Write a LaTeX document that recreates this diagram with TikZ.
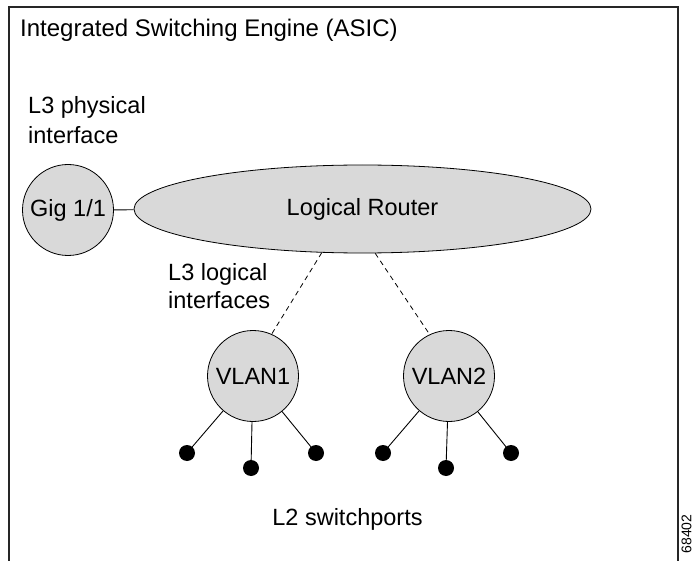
\documentclass[tikz,border=0pt]{standalone}
\usepackage{fontspec}
\setmainfont{Liberation Sans}
\usetikzlibrary{shapes.geometric}
\definecolor{nodegray}{RGB}{217,217,217}
\begin{document}
\begin{tikzpicture}[x=1pt,y=1pt,
  lbl/.style={inner sep=0pt, font=\fontsize{23.5}{24.5}\selectfont},
  ball/.style={circle, draw=black, line width=0.8pt, fill=nodegray, minimum size=91pt, inner sep=0pt, font=\fontsize{23.5}{24.5}\selectfont},
  oval/.style={ellipse, draw=black, line width=0.8pt, fill=nodegray, minimum width=457pt, minimum height=88pt, inner sep=0pt, font=\fontsize{23.5}{24.5}\selectfont},
  port/.style={circle, fill=black, minimum size=16pt, inner sep=0pt},
  wire/.style={line width=0.9pt, black},
  dwire/.style={line width=0.8pt, black, dash pattern=on 5pt off 4pt}]
\useasboundingbox (0,0) rectangle (693,-561);
% frame
\draw[line width=1.5pt, black!85] (9,-561) -- (9,-7) -- (678,-7) -- (678,-561);
% texts
\node[lbl, anchor=base west, font=\fontsize{24}{25}\selectfont] (title) at (20,-37) {Integrated Switching Engine (ASIC)};
\node[lbl, anchor=north west, align=left, font=\fontsize{23.5}{30.5}\selectfont] (phys) at (28,-96) {L3 physical\\interface};
\node[lbl, anchor=north west, align=left, font=\fontsize{23.5}{28}\selectfont] (logi) at (168,-263) {L3 logical\\interfaces};
\node[lbl, anchor=base] (l2) at (347.5,-525) {L2 switchports};
\node[inner sep=0pt, rotate=90, anchor=center, font=\fontsize{14}{15}\selectfont] (fig) at (686.5,-534) {68402};
% nodes
\node[ball] (gig) at (68,-210) {Gig 1/1};
\node[oval] (router) at (362.5,-209) {Logical Router};
\node[ball] (vlan1) at (253,-376) {VLAN1};
\node[ball] (vlan2) at (449,-376) {VLAN2};
\node[port] (p1) at (187,-453) {};
\node[port] (p2) at (251,-468) {};
\node[port] (p3) at (316,-453) {};
\node[port] (p4) at (383,-453) {};
\node[port] (p5) at (446,-468) {};
\node[port] (p6) at (511,-453) {};
% connectors
\draw[wire] (gig) -- (router);
\draw[dwire] (router.227) -- (vlan1.66);
\draw[dwire] (router.286) -- (vlan2.115);
\draw[wire] (vlan1) -- (p1.center);
\draw[wire] (vlan1) -- (p2.center);
\draw[wire] (vlan1) -- (p3.center);
\draw[wire] (vlan2) -- (p4.center);
\draw[wire] (vlan2) -- (p5.center);
\draw[wire] (vlan2) -- (p6.center);
\end{tikzpicture}
\end{document}
